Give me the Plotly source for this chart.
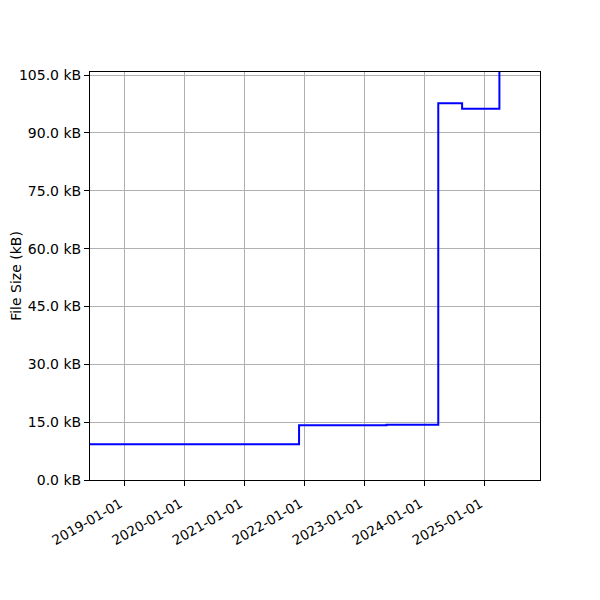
import plotly.graph_objects as go

# file size history (kB), step plot
dates = ["2018-06-07", "2021-11-30", "2023-05-16", "2024-03-26", "2024-08-18", "2025-04-02", "2025-12-05"]
size_kb = [9.24, 14.2, 14.3, 97.7, 96.3, 112.0, 112.0]

y_ticks = [0, 15, 30, 45, 60, 75, 90, 105]
y_labels = [f"{v:.1f} kB" for v in y_ticks]
x_ticks = ["2019-01-01", "2020-01-01", "2021-01-01", "2022-01-01", "2023-01-01", "2024-01-01", "2025-01-01"]

fig = go.Figure()
fig.add_trace(go.Scatter(x=dates, y=size_kb, mode="lines", line_shape="hv",
                         line=dict(color="blue", width=2), showlegend=False))

axis_style = dict(showline=True, linecolor="black", linewidth=1, mirror=True,
                  ticks="outside", ticklen=5, tickcolor="black", automargin=False,
                  showgrid=True, gridcolor="#b0b0b0", gridwidth=0.8, zeroline=False)

fig.update_xaxes(range=["2018-06-07", "2025-12-05"], tickvals=x_ticks, ticktext=x_ticks,
                 tickangle=-30, ticklabelshift=-4, ticklabelstandoff=5,
                 tickfont=dict(size=13.5), **axis_style)
fig.update_yaxes(range=[0, 105.8], tickvals=y_ticks, ticktext=y_labels,
                 title=dict(text="File Size (kB)", standoff=13, font=dict(size=14)), **axis_style)

# page body adds 8px offset, so margins are shifted to compensate
fig.update_layout(width=600, height=600, plot_bgcolor="white", paper_bgcolor="white",
                  margin=dict(l=82, r=68, t=64, b=128),
                  font=dict(family="DejaVu Sans", size=14, color="black"))

fig.write_html("out.html")
